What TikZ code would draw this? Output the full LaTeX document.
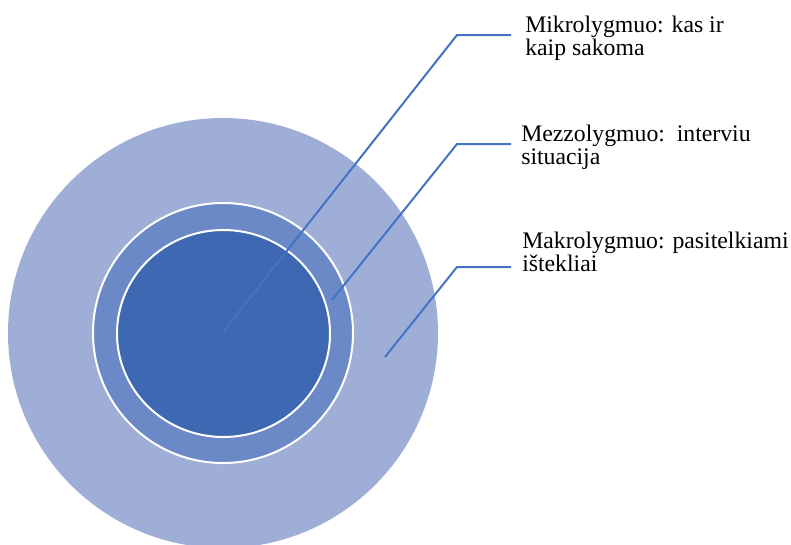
\documentclass[tikz,border=0pt]{standalone}
\usepackage{fontspec}
\setmainfont{Liberation Serif}
\newfontfamily\labfont{Liberation Serif}
\definecolor{outerc}{HTML}{9FAED7}
\definecolor{midc}{HTML}{6A89C6}
\definecolor{innerc}{HTML}{3E68B1}
\definecolor{linec}{HTML}{4472C4}
\tikzset{
  leader/.style={draw=linec,line width=1.5pt},
  lab/.style={anchor=north west,inner sep=0pt,align=left,font=\labfont\fontsize{17.8}{17.3}\selectfont},
}
\begin{document}
\begin{tikzpicture}[x=0.75pt,y=-0.75pt]
\useasboundingbox (0,0) rectangle (791,544);
\clip (0,0) rectangle (791,544);
\fill[white] (0,0) rectangle (791,544);
% circles
\fill[outerc] (223,333) circle[radius=215];
\draw[fill=midc,draw=white,line width=1.5pt] (223,333) circle[radius=130];
\draw[fill=innerc,draw=white,line width=1.5pt] (223.5,333.5) ellipse[x radius=106.5,y radius=103.5];
% anchor points
\coordinate (p1) at (223,332);
\coordinate (e1) at (457,35);
\coordinate (t1) at (511,35);
\coordinate (p2) at (332,300);
\coordinate (e2) at (457,144);
\coordinate (t2) at (511,144);
\coordinate (p3) at (385,357);
\coordinate (e3) at (457,267);
\coordinate (t3) at (511,267);
% labels
\node[lab] (l1) at (525,16) {Mikrolygmuo: kas ir\\kaip sakoma};
\node[lab] (l2) at (521,125) {Mezzolygmuo:\hspace{0.5em}interviu\\situacija};
\node[lab] (l3) at (522,232) {Makrolygmuo: pasitelkiami\\ištekliai};
% leaders
\draw[leader] (p1) -- (e1) -- (t1);
\draw[leader] (p2) -- (e2) -- (t2);
\draw[leader] (p3) -- (e3) -- (t3);
\end{tikzpicture}
\end{document}
